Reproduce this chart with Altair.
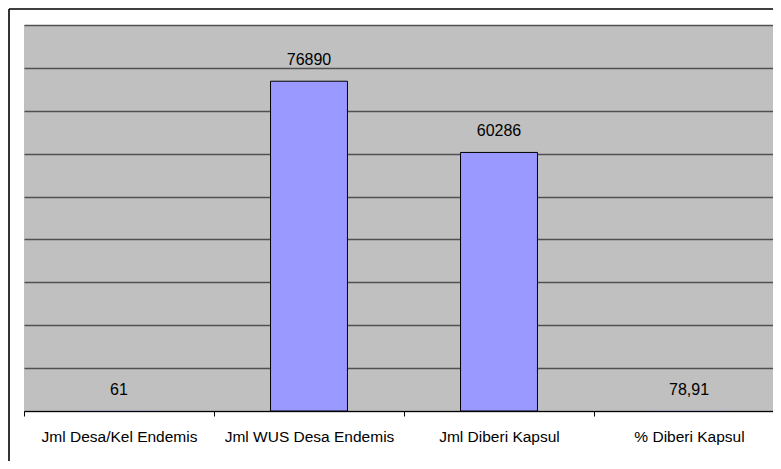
import altair as alt
import pandas as pd

categories = ["Jml Desa/Kel Endemis", "Jml WUS Desa Endemis", "Jml Diberi Kapsul", "% Diberi Kapsul"]
values = [61, 76890, 60286, 78.91]
value_labels = ["61", "76890", "60286", "78,91"]
y_ticks = [0, 10000, 20000, 30000, 40000, 50000, 60000, 70000, 80000, 90000]

df = pd.DataFrame({"cat": categories, "val": values, "lbl": value_labels})

FONT = "Liberation Sans"
W, H = 749, 386

x_enc = alt.X("cat:N", sort=categories, title=None,
              scale=alt.Scale(range=[0, 760], paddingInner=0, paddingOuter=0),
              axis=alt.Axis(labelAngle=0, tickBand="extent", tickSize=5, tickColor="black",
                            domainColor="black", domainWidth=1, labelFont=FONT,
                            labelFontSize=15.5, labelColor="black", labelPadding=13,
                            grid=False, zindex=1))
y_scale = alt.Scale(domain=[0, 90000], nice=False)

base = alt.Chart(df)

bars = base.mark_bar(width=alt.RelativeBandSize(0.405), color="#9999FF",
                     strokeWidth=1).encode(
    x=x_enc,
    y=alt.Y("val:Q", scale=y_scale, title=None,
            axis=alt.Axis(values=y_ticks, labels=False, ticks=False, domain=False,
                          grid=True, gridColor="#505050", gridWidth=1.3)),
    stroke=alt.condition(alt.datum.val > 1000, alt.value("black"), alt.value("transparent")),
)

texts = base.mark_text(font=FONT, fontSize=16, color="black", baseline="alphabetic",
                       dy=-16).encode(
    x=alt.X("cat:N", sort=categories),
    y=alt.Y("val:Q", scale=y_scale),
    text="lbl:N",
)

one = pd.DataFrame({"f": [0]})
frame_left = alt.Chart(one).mark_rule(color="black", strokeWidth=1.6).encode(
    x=alt.value(-15), y=alt.value(-16), y2=alt.value(H + 80)
)
frame_top = alt.Chart(one).mark_rule(color="black", strokeWidth=1.6).encode(
    x=alt.value(-15), x2=alt.value(W + 40), y=alt.value(-16)
)

chart = alt.layer(bars, texts, frame_left, frame_top).properties(
    width=W, height=H,
    autosize=alt.AutoSizeParams(type="none"),
    padding={"left": 16, "top": 17, "right": 0, "bottom": 50},
    background="white",
).configure_view(fill="#C0C0C0", stroke=None)

chart.save("out.html", embed_options={"renderer": "svg", "actions": False})
